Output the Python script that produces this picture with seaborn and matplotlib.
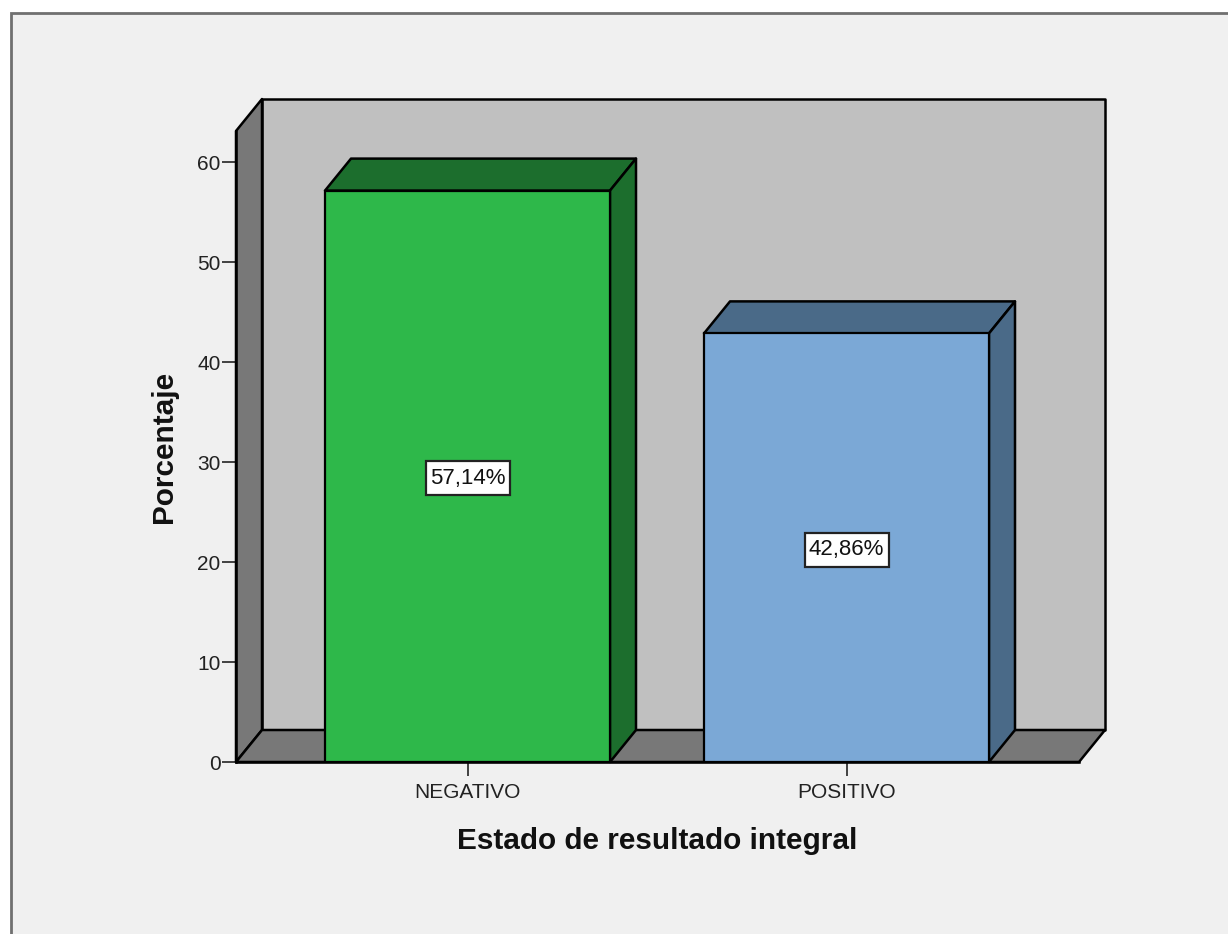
from matplotlib import pyplot as plt
from matplotlib.patches import Rectangle
import pandas as pd
import seaborn as sns

categories = ['NEGATIVO', 'POSITIVO']
percentages = [57.14, 42.86]
percent_labels = ['57,14%', '42,86%']
y_ticks = [0, 10, 20, 30, 40, 50, 60]

front_colors = ['#2eb84a', '#7ba8d6']
top_colors = ['#1c6e2d', '#4a6a88']

W, H = 1228, 934
LEFT, RIGHT, BOTTOM, TOP = 236, 1079, 762, 131
PX_PER_CAT = 379
PX_PER_UNIT = 10
DEPTH_X = 26 / PX_PER_CAT  # 3d offset in data units
DEPTH_Y = 32 / PX_PER_UNIT

sns.set_theme(style='white')
plt.rcParams['font.family'] = ['Liberation Sans', 'DejaVu Sans']

df = pd.DataFrame({'estado': categories, 'porcentaje': percentages})

fig = plt.figure(figsize=(W / 100, H / 100), dpi=100, facecolor='white')
fig.add_artist(Rectangle((10.5 / W, -0.01), 1.02, 1 - 12.5 / H + 0.01, transform=fig.transFigure,
                         facecolor='#f0f0f0', edgecolor='#707070', linewidth=2, zorder=-1))

ax = fig.add_axes([LEFT / W, 1 - BOTTOM / H, (RIGHT - LEFT) / W, (BOTTOM - TOP) / H])
ax.patch.set_alpha(0)

sns.barplot(data=df, x='estado', y='porcentaje', hue='estado', palette=front_colors, legend=False,
            width=285 / PX_PER_CAT, edgecolor='black', linewidth=1.6, saturation=1, ax=ax, zorder=5)

x_min = -(467.5 - LEFT) / PX_PER_CAT
x_max = 1 + (RIGHT - 846.5) / PX_PER_CAT
y_max = (BOTTOM - TOP) / PX_PER_UNIT
ax.set_xlim(x_min, x_max)
ax.set_ylim(0, y_max)

# walls and floor behind the bars
wall = dict(edgecolor='black', linewidth=1.8, clip_on=False, joinstyle='round')
ax.fill([x_min + DEPTH_X, x_max + DEPTH_X, x_max + DEPTH_X, x_min + DEPTH_X],
        [DEPTH_Y, DEPTH_Y, y_max + DEPTH_Y, y_max + DEPTH_Y], facecolor='#c0c0c0', zorder=1, **wall)
ax.fill([x_min, x_min + DEPTH_X, x_min + DEPTH_X, x_min],
        [0, DEPTH_Y, y_max + DEPTH_Y, y_max], facecolor='#787878', zorder=2, **wall)
ax.fill([x_min, x_max, x_max + DEPTH_X, x_min + DEPTH_X],
        [0, 0, DEPTH_Y, DEPTH_Y], facecolor='#787878', zorder=2, **wall)

# top and side of each bar, then the value label box
box_w = 84 / PX_PER_CAT
box_h = 34 / PX_PER_UNIT
for bar, dark, label in zip(ax.patches, top_colors, percent_labels):
    x0, x1 = bar.get_x(), bar.get_x() + bar.get_width()
    h = bar.get_height()
    ax.fill([x0, x1, x1 + DEPTH_X, x0 + DEPTH_X], [h, h, h + DEPTH_Y, h + DEPTH_Y],
            facecolor=dark, zorder=4, **wall)
    ax.fill([x1, x1 + DEPTH_X, x1 + DEPTH_X, x1], [0, DEPTH_Y, h + DEPTH_Y, h],
            facecolor=dark, zorder=4, **wall)
    mid_x, mid_y = (x0 + x1) / 2, h / 2 - 0.2
    ax.add_patch(Rectangle((mid_x - box_w / 2, mid_y - box_h / 2), box_w, box_h, facecolor='white',
                           edgecolor='#222222', linewidth=1.6, zorder=6))
    ax.text(mid_x, mid_y, label, ha='center', va='center', fontsize=16, color='#111111', zorder=7)

for side in ['top', 'right']:
    ax.spines[side].set_visible(False)
for side in ['left', 'bottom']:
    ax.spines[side].set_linewidth(1.8)
    ax.spines[side].set_color('black')
    ax.spines[side].set_zorder(3)

ax.set_yticks(y_ticks)
ax.set_xticks(range(len(categories)))
ax.set_xticklabels(categories)
ax.tick_params(axis='y', left=True, length=10, width=1.3, color='#333333', labelsize=15,
               labelcolor='#222222', pad=1)
ax.tick_params(axis='x', bottom=True, length=10, width=1.3, color='#333333', labelsize=15,
               labelcolor='#222222', pad=5)

ax.set_xlabel('Estado de resultado integral', fontsize=21.4, fontweight='bold', color='#111111', labelpad=18)
ax.set_ylabel('Porcentaje', fontsize=21.4, fontweight='bold', color='#111111', labelpad=14)

fig.savefig('out.png', dpi=100)
plt.close(fig)
